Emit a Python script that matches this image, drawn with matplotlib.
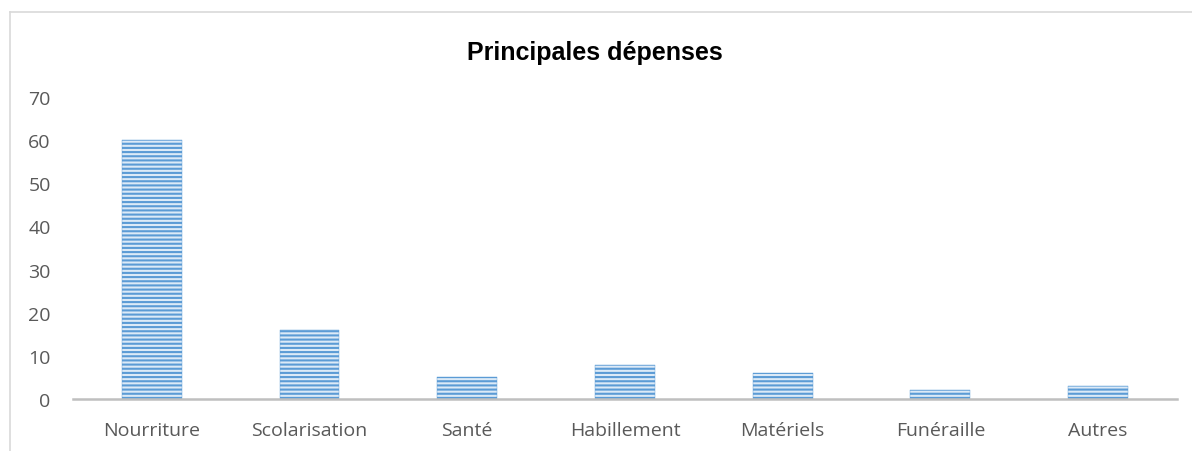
import matplotlib.pyplot as plt
from matplotlib.lines import Line2D

categories = ['Nourriture', 'Scolarisation', 'Santé', 'Habillement', 'Matériels', 'Funéraille', 'Autres']
values = [60, 16, 5, 8, 6, 2, 3]
yticks = [0, 10, 20, 30, 40, 50, 60, 70]

plt.rcParams['font.family'] = ['Open Sans', 'DejaVu Sans']
plt.rcParams['hatch.linewidth'] = 1.5

fig = plt.figure(figsize=(11.92, 4.52), dpi=100)
ax = fig.add_axes([0.0612, 0.115, 0.9262, 0.668])

x = range(len(categories))
ax.bar(x, values, width=0.38, color='#DCEAF7', edgecolor='#5B9BD5',
       linewidth=0.3, hatch='----')

ax.set_xlim(-0.5, len(categories) - 0.5)
ax.set_ylim(0, 70)
ax.set_yticks(yticks)
ax.set_xticks(list(x))
ax.set_xticklabels(categories)
ax.tick_params(axis='both', length=0, labelsize=14, labelcolor='#595959')
ax.tick_params(axis='y', pad=16)
ax.tick_params(axis='x', pad=16)

for s in ['top', 'right', 'left']:
    ax.spines[s].set_visible(False)
ax.spines['bottom'].set_color('#BFBFBF')
ax.spines['bottom'].set_linewidth(1.8)

fig.text(0.499, 0.882, 'Principales dépenses', ha='center', va='center',
         fontsize=18, fontweight='bold', color='black', family=['Liberation Sans'])

# chart frame (partially cropped)
fig.add_artist(Line2D([0.0084, 1.0], [0.971, 0.971], color='#D9D9D9', lw=1.2, transform=fig.transFigure))
fig.add_artist(Line2D([0.0084, 0.0084], [0.971, 0.0], color='#D9D9D9', lw=1.2, transform=fig.transFigure))

fig.savefig('out.png', dpi=100)
